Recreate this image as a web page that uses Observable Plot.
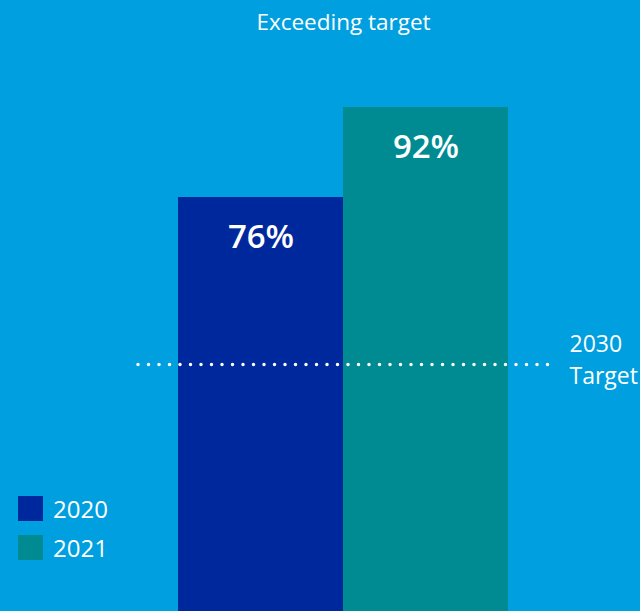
<!DOCTYPE html>
<html>
<head>
<meta charset="utf-8">
<script src="https://cdn.jsdelivr.net/npm/d3@7"></script>
<script src="https://cdn.jsdelivr.net/npm/@observablehq/plot@0.6"></script>
<style>
  html, body { margin: 0; padding: 0; background: #009fe0; overflow: hidden; }
  #wrap { position: relative; width: 640px; height: 611px; overflow: hidden; font-family: "Open Sans", sans-serif; }
  #wrap svg { position: absolute; left: 0; top: 0; background: transparent; }
  .legend { position: absolute; left: 18px; top: 496px; color: #fff; font-size: 24px; }
  .legend .item { display: flex; align-items: center; height: 25px; margin-bottom: 14px; }
  .legend .sw { width: 25px; height: 25px; margin-right: 10px; }
</style>
</head>
<body>
<div id="wrap"></div>
<script>
// Data
const years = ["2020", "2021"];
const values = [76, 92];
const labels = ["76%", "92%"];
const colors = ["#00289d", "#008b93"];
const targetValue = 46.3;
const targetLabel = "2030\nTarget";
const title = "Exceeding target";

const data = years.map((y, i) => ({year: y, value: values[i], label: labels[i]}));

const font = "Open Sans, sans-serif";
const plot = Plot.plot({
  width: 640,
  height: 611,
  margin: 0,
  style: {background: "transparent", fontFamily: font, color: "#fff"},
  x: {domain: years, range: [178, 508], padding: 0, axis: null},
  y: {domain: [0, 100], range: [624.5, 62], axis: null},
  color: {domain: years, range: colors},
  marks: [
    Plot.barY(data, {x: "year", y: "value", fill: "year"}),
    Plot.ruleY([targetValue], {
      stroke: "#fff", strokeWidth: 3.5, strokeLinecap: "round",
      strokeDasharray: "0 10.5", insetLeft: 138, insetRight: 90
    }),
    Plot.text(data, {
      x: "year", y: "value", text: "label", dy: 40,
      fill: "#fff", fontSize: 33, fontWeight: 600, fontFamily: font
    }),
    Plot.text([targetLabel], {
      y: () => targetValue, text: d => d, frameAnchor: "left", dx: 569, dy: -7,
      textAnchor: "start", lineHeight: 1.39, fill: "#fff", fontSize: 23, fontFamily: font
    }),
    Plot.text([title], {
      text: d => d, frameAnchor: "top", lineAnchor: "middle", dx: 23, dy: 22,
      fill: "#fff", fontSize: 22.5, fontFamily: font
    })
  ]
});
const wrap = document.getElementById("wrap");
wrap.appendChild(plot);

const legend = document.createElement("div");
legend.className = "legend";
years.forEach((y, i) => {
  const item = document.createElement("div");
  item.className = "item";
  const sw = document.createElement("div");
  sw.className = "sw";
  sw.style.background = colors[i];
  const t = document.createElement("span");
  t.textContent = y;
  item.appendChild(sw);
  item.appendChild(t);
  legend.appendChild(item);
});
wrap.appendChild(legend);
</script>
</body>
</html>
